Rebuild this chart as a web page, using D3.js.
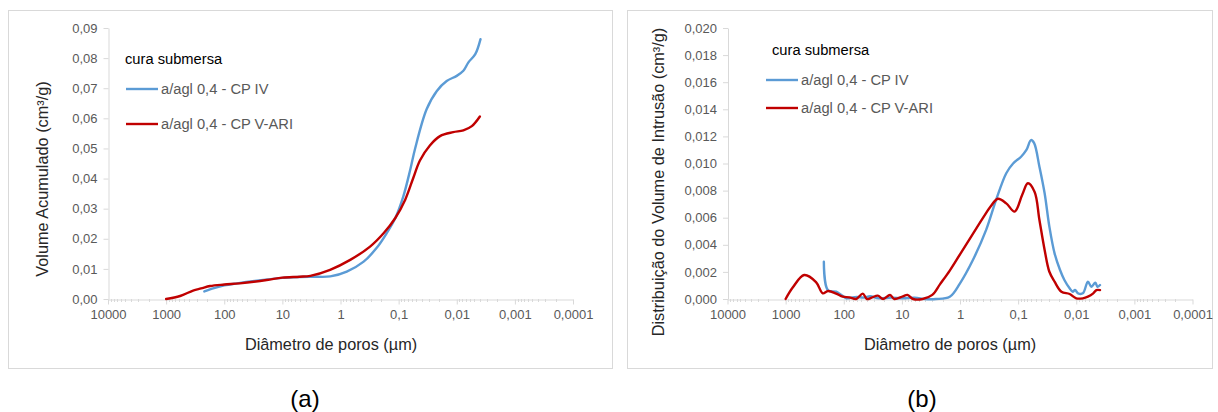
<!DOCTYPE html>
<html>
<head>
<meta charset="utf-8">
<script src="https://cdn.jsdelivr.net/npm/d3@7"></script>
<style>
  html, body { margin: 0; padding: 0; background: #fff; }
  svg { display: block; font-family: "Liberation Sans", Arial, sans-serif; }
</style>
</head>
<body>
<svg id="chart" width="1218" height="412"></svg>
<script>
// Pore diameter axis (µm), shared by both panels
const xTickValues = [10000, 1000, 100, 10, 1, 0.1, 0.01, 0.001, 0.0001];
const xTickLabels = ["10000", "1000", "100", "10", "1", "0,1", "0,01", "0,001", "0,0001"];

// (a) cumulative intruded volume (cm³/g)
const yTicksA = [0, 0.01, 0.02, 0.03, 0.04, 0.05, 0.06, 0.07, 0.08, 0.09];
const yLabelsA = ["0,00", "0,01", "0,02", "0,03", "0,04", "0,05", "0,06", "0,07", "0,08", "0,09"];

const cumIV_d = [220, 150, 100, 60, 30, 10, 5, 3, 1.5, 0.78, 0.40, 0.24, 0.16, 0.114, 0.083, 0.063, 0.052, 0.033, 0.022, 0.0149, 0.010, 0.0077, 0.0063, 0.0048, 0.0039];
const cumIV_v = [0.0025, 0.0036, 0.0045, 0.0052, 0.0060, 0.0070, 0.0073, 0.0074, 0.0075, 0.0091, 0.0124, 0.0169, 0.0219, 0.0269, 0.0341, 0.0430, 0.0500, 0.0630, 0.0691, 0.0724, 0.0741, 0.0758, 0.0786, 0.0813, 0.0863];

const cumVARI_d = [1000, 575, 344, 250, 175, 100, 54, 18.6, 10, 5, 3.3, 1.51, 0.68, 0.31, 0.18, 0.114, 0.077, 0.056, 0.043, 0.029, 0.0194, 0.0115, 0.0077, 0.0055, 0.0040];
const cumVARI_v = [0, 0.0010, 0.0028, 0.0035, 0.0043, 0.0048, 0.0052, 0.0063, 0.0071, 0.0074, 0.0077, 0.0097, 0.0130, 0.0174, 0.0219, 0.0269, 0.0330, 0.0402, 0.0460, 0.0510, 0.0541, 0.0554, 0.0560, 0.0574, 0.0606];

// (b) intrusion volume distribution (cm³/g)
const yTicksB = [0, 0.002, 0.004, 0.006, 0.008, 0.010, 0.012, 0.014, 0.016, 0.018, 0.020];
const yLabelsB = ["0,000", "0,002", "0,004", "0,006", "0,008", "0,010", "0,012", "0,014", "0,016", "0,018", "0,020"];

const distIV_d = [220, 188, 135, 110, 90, 75, 60, 45, 35, 25, 15, 10, 6, 4, 2.6, 1.5, 1.0, 0.6, 0.355, 0.24, 0.16, 0.122, 0.089, 0.072, 0.060, 0.053, 0.043, 0.035, 0.029, 0.0236, 0.019, 0.016, 0.013, 0.0115, 0.0105, 0.0093, 0.0077, 0.0063, 0.0055, 0.0047, 0.0043, 0.0039];
const distIV_v = [0.00275, 0.00066, 0.00054, 0.00030, 0.00005, 0.00010, 0.00015, 0.00010, 0.00020, 0.00005, 0.00010, 0.00005, 0.00010, 0, 0, 0.00017, 0.00116, 0.00288, 0.00510, 0.00730, 0.00928, 0.01000, 0.01050, 0.01100, 0.01173, 0.01150, 0.00976, 0.00780, 0.00534, 0.00337, 0.00214, 0.00140, 0.00079, 0.00054, 0.00066, 0.00042, 0.00042, 0.00128, 0.00090, 0.00120, 0.00090, 0.00103];

const distVARI_d = [1000, 750, 480, 300, 230, 186, 135, 104, 80, 61, 47, 40, 33, 26, 21, 16, 13.5, 9.6, 8, 6.4, 4.4, 3, 2.2, 1.5, 1.0, 0.6, 0.4, 0.3, 0.223, 0.16, 0.115, 0.085, 0.068, 0.052, 0.043, 0.035, 0.029, 0.0236, 0.018, 0.013, 0.010, 0.0077, 0.0063, 0.0051, 0.0045, 0.0039];
const distVARI_v = [0, 0.00086, 0.00177, 0.00125, 0.00042, 0.00059, 0.00040, 0.00017, 0.00012, 0, 0.00040, 0, 0.00010, 0.00025, 0, 0.00030, 0, 0.00020, 0.00030, 0, 0, 0.00030, 0.00110, 0.00210, 0.00330, 0.00480, 0.00600, 0.00680, 0.00740, 0.00706, 0.00645, 0.00770, 0.00854, 0.00790, 0.00583, 0.00362, 0.00201, 0.00128, 0.00054, 0.00037, 0.00005, 0.00005, 0.00017, 0.00042, 0.00066, 0.00066];

const seriesNames = ["a/agl 0,4 - CP IV", "a/agl 0,4 - CP V-ARI"];
const seriesColors = ["#5B9BD5", "#C00000"];
const legendTitle = "cura submersa";
const xTitle = "Diâmetro de poros (µm)";

const svg = d3.select("#chart");
svg.append("rect").attr("width", 1218).attr("height", 412).attr("fill", "#fff");

const zip = (d, v) => d.map((x, i) => ({ d: x, v: v[i] }));

function drawPanel(cfg) {
  const g = svg.append("g");

  // outer chart frame
  g.append("rect")
    .attr("x", cfg.frame[0] + 0.5).attr("y", cfg.frame[1] + 0.5)
    .attr("width", cfg.frame[2]).attr("height", cfg.frame[3])
    .attr("fill", "#fff").attr("stroke", "#D9D9D9").attr("stroke-width", 1);

  const x = d3.scaleLog().domain([10000, 0.0001]).range([cfg.left, cfg.left + 465]);
  const y = d3.scaleLinear().domain(cfg.yDomain).range([299, 28]);

  // minor ticks on the log axis (2..9 × each decade)
  const minor = [];
  for (let e = -4; e < 4; e++) for (let k = 2; k <= 9; k++) minor.push(k * Math.pow(10, e));
  g.append("g").selectAll("line").data(minor).join("line")
    .attr("x1", d => Math.round(x(d)) + 0.5).attr("x2", d => Math.round(x(d)) + 0.5)
    .attr("y1", 299).attr("y2", 302)
    .attr("stroke", "#D9D9D9").attr("stroke-width", 1);

  // x axis
  const xAxis = d3.axisBottom(x).tickValues(xTickValues)
    .tickFormat((d, i) => xTickLabels[i]).tickSizeInner(5).tickSizeOuter(0).tickPadding(5);
  const gx = g.append("g").attr("transform", "translate(0,299.5)").call(xAxis);
  gx.select(".domain").attr("stroke", "#D9D9D9");
  gx.selectAll(".tick line").attr("stroke", "#D9D9D9");
  gx.selectAll(".tick text").attr("fill", "#595959").attr("font-size", 13)
    .attr("font-family", "'Liberation Sans', Arial, sans-serif");

  // y axis
  const yAxis = d3.axisLeft(y).tickValues(cfg.yTicks)
    .tickFormat((d, i) => cfg.yLabels[i]).tickSizeInner(5).tickSizeOuter(0).tickPadding(6);
  const gy = g.append("g").attr("transform", `translate(${cfg.left + 0.5},0)`).call(yAxis);
  gy.select(".domain").attr("stroke", "#D9D9D9");
  gy.selectAll(".tick line").attr("stroke", "#D9D9D9");
  gy.selectAll(".tick text").attr("fill", "#595959").attr("font-size", 13)
    .attr("font-family", "'Liberation Sans', Arial, sans-serif");

  // data lines
  const line = d3.line().x(p => x(p.d)).y(p => y(p.v)).curve(d3.curveCatmullRom.alpha(0.5));
  cfg.series.forEach((s, i) => {
    g.append("path").datum(s).attr("d", line)
      .attr("fill", "none").attr("stroke", seriesColors[i])
      .attr("stroke-width", 2.4).attr("stroke-linejoin", "round").attr("stroke-linecap", "round");
  });

  // axis titles
  g.append("text")
    .attr("transform", `translate(${cfg.yTitlePos[0]},${cfg.yTitlePos[1]}) rotate(-90)`)
    .attr("text-anchor", "middle").attr("dominant-baseline", "central")
    .attr("font-size", 16.3).attr("fill", "#262626").text(cfg.yTitle);
  g.append("text").attr("x", cfg.xTitleX).attr("y", 350)
    .attr("text-anchor", "middle").attr("font-size", 16.3).attr("fill", "#262626").text(xTitle);

  // legend
  const L = cfg.legend;
  g.append("text").attr("x", L.x + L.titleDx).attr("y", L.titleY)
    .attr("font-size", 14.7).attr("fill", "#000").text(legendTitle);
  seriesNames.forEach((name, i) => {
    const ly = L.rows[i];
    g.append("line").attr("x1", L.x).attr("x2", L.x + 32).attr("y1", ly).attr("y2", ly)
      .attr("stroke", seriesColors[i]).attr("stroke-width", 2.4);
    g.append("text").attr("x", L.x + 35).attr("y", ly).attr("dominant-baseline", "central")
      .attr("font-size", 14.7).attr("fill", "#595959").text(name);
  });

  // panel letter
  svg.append("text").attr("x", cfg.letterX).attr("y", 398)
    .attr("text-anchor", "middle").attr("dominant-baseline", "central")
    .attr("font-size", 24).attr("fill", "#000").text(cfg.letter);
}

drawPanel({
  frame: [8, 10, 604, 358],
  left: 108,
  yDomain: [0, 0.09], yTicks: yTicksA, yLabels: yLabelsA,
  yTitle: "Volume Acumulado (cm³/g)", yTitlePos: [42, 179],
  xTitleX: 331,
  series: [zip(cumIV_d, cumIV_v), zip(cumVARI_d, cumVARI_v)],
  legend: { x: 126, titleDx: -1, titleY: 63.5, rows: [89, 124] },
  letter: "(a)", letterX: 305
});

drawPanel({
  frame: [627, 10, 585, 358],
  left: 727.5,
  yDomain: [0, 0.02], yTicks: yTicksB, yLabels: yLabelsB,
  yTitle: "Distribuição do Volume de Intrusão (cm³/g)", yTitlePos: [658, 182],
  xTitleX: 950,
  series: [zip(distIV_d, distIV_v), zip(distVARI_d, distVARI_v)],
  legend: { x: 766, titleDx: 6, titleY: 55, rows: [80, 108] },
  letter: "(b)", letterX: 922
});
</script>
</body>
</html>
